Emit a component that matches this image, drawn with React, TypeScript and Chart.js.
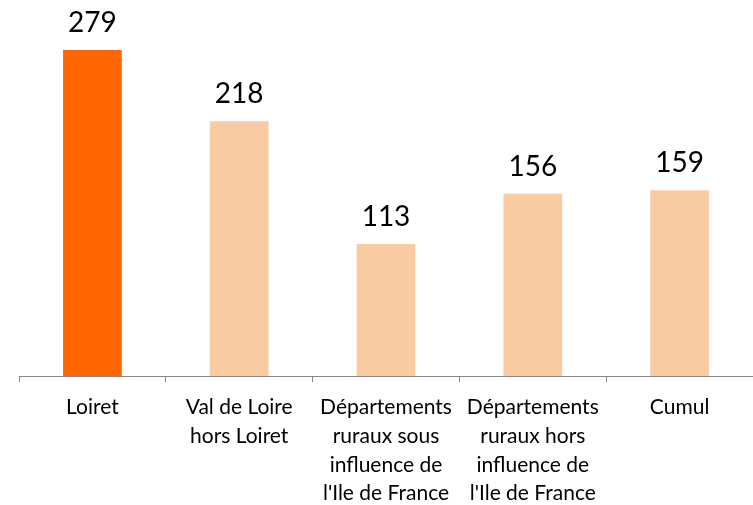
import React, { useEffect, useRef } from "react";
import { Chart, registerables } from "chart.js";

Chart.register(...registerables);

const categories: string[][] = [
  ["Loiret"],
  ["Val de Loire", "hors Loiret"],
  ["Départements", "ruraux sous", "influence de", "l'Ile de France"],
  ["Départements", "ruraux hors", "influence de", "l'Ile de France"],
  ["Cumul"],
];
const values: number[] = [279, 218, 113, 156, 159];
const barColors: string[] = ["#FF6600", "#F8CBA2", "#F8CBA2", "#F8CBA2", "#F8CBA2"];

const FONT = "Lato, 'Open Sans', sans-serif";

const valueLabels = {
  id: "valueLabels",
  afterDatasetsDraw(chart: any) {
    const ctx = chart.ctx;
    const meta = chart.getDatasetMeta(0);
    ctx.save();
    ctx.font = `28px ${FONT}`;
    ctx.fillStyle = "#000000";
    ctx.textAlign = "center";
    ctx.textBaseline = "alphabetic";
    meta.data.forEach((bar: any, i: number) => {
      ctx.fillText(String(values[i]), bar.x, bar.y - 18);
    });
    ctx.restore();
  },
};

export default function App() {
  const ref = useRef<HTMLCanvasElement | null>(null);
  useEffect(() => {
    if (!ref.current) return;
    const chart = new Chart(ref.current, {
      type: "bar",
      data: {
        labels: categories,
        datasets: [
          {
            data: values,
            backgroundColor: barColors,
            borderWidth: 0,
            barPercentage: 0.8,
            categoryPercentage: 0.5,
          },
        ],
      },
      options: {
        animation: false,
        responsive: false,
        layout: { padding: { top: 25.5, left: 19, right: 0, bottom: 0 } },
        plugins: { legend: { display: false }, tooltip: { enabled: false } },
        scales: {
          x: {
            grid: {
              display: true,
              drawOnChartArea: false,
              drawTicks: true,
              tickLength: 6,
              color: "#868686",
              offset: true,
            },
            border: { display: true, color: "#868686", width: 1 },
            ticks: {
              autoSkip: false,
              maxRotation: 0,
              minRotation: 0,
              padding: 11,
              color: "#000000",
              font: { family: FONT, size: 21, lineHeight: 1.37 },
            },
            afterFit(scale: any) {
              scale.height = 129;
            },
          },
          y: {
            display: false,
            min: 0,
            max: 300,
          },
        },
      },
      plugins: [valueLabels],
    });
    return () => chart.destroy();
  }, []);
  return (
    <div style={{ position: "fixed", left: 0, top: 0, width: 753, height: 505, background: "#fff" }}>
      <canvas ref={ref} width={753} height={505} />
    </div>
  );
}
